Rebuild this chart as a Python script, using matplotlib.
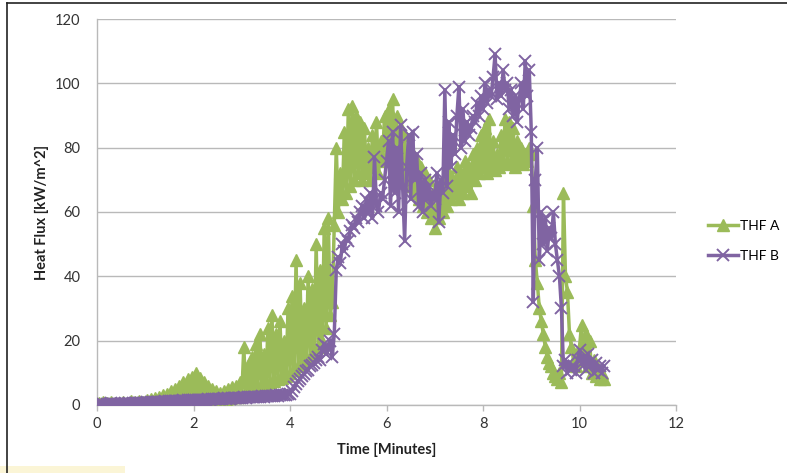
import matplotlib

matplotlib.use("Agg")
import matplotlib.pyplot as plt
import numpy as np
from matplotlib.lines import Line2D
from matplotlib.patches import Rectangle

GREEN = "#9bbb59"
PURPLE = "#8064a2"
GRID = "#b9b9b9"

plt.rcParams.update({"font.family": ["Lato", "DejaVu Sans"], "font.size": 10.5})

# samples every 2.5 s (1/24 min), one row = half a minute
step_min = 1 / 24

thf_a = [
    0.3, 0.6, 0.2, 0.8, 0.4, 0.5, 0.2, 0.9, 0.3, 0.6, 0.2, 0.7,
    0.4, 0.9, 0.3, 0.7, 0.5, 1.1, 0.3, 0.8, 0.4, 1.2, 0.5, 1.0,
    0.4, 1.4, 0.6, 1.8, 0.5, 2.2, 0.8, 2.6, 0.7, 3.0, 0.9, 3.5,
    1.0, 4.2, 1.2, 5.0, 1.4, 6.0, 1.6, 7.0, 1.8, 8.0, 2.0, 8.8,
    2.2, 9.8, 2.0, 8.5, 1.8, 7.0, 1.5, 6.0, 1.4, 5.0, 1.5, 4.2,
    1.6, 3.8, 1.8, 4.5, 2.0, 5.0, 2.2, 5.5, 2.4, 6.0, 2.6, 7.0,
    3.0, 18, 4.0, 12, 4.5, 15, 5.0, 19, 5.5, 22, 6.0, 16,
    6.5, 24, 7.0, 28, 7.5, 22, 8.0, 26, 8.5, 20, 9.0, 30,
    10, 34, 11, 45, 12, 38, 13, 30, 14, 40, 15, 36,
    16, 50, 18, 42, 20, 55, 24, 58, 28, 32, 56, 80,
    60, 72, 64, 85, 66, 92, 68, 93, 70, 90, 72, 88,
    70, 86, 72, 80, 70, 84, 74, 88, 72, 82, 76, 90,
    78, 92, 80, 95, 76, 90, 74, 86, 72, 84, 70, 80,
    68, 78, 66, 76, 64, 74, 62, 72, 60, 70, 58, 66,
    55, 62, 58, 68, 60, 70, 62, 72, 64, 70, 66, 74,
    64, 72, 66, 76, 68, 74, 66, 78, 70, 80, 72, 84,
    74, 86, 72, 89, 74, 82, 73, 78, 74, 84, 76, 89,
    75, 88, 76, 86, 74, 82, 76, 80, 75, 78, 76, 80,
    78, 62, 45, 38, 30, 26, 22, 18, 15, 13, 12, 10,
    9, 8, 10, 7, 66, 40, 35, 22, 18, 14, 12, 15,
    18, 25, 14, 22, 12, 20, 10, 14, 9, 11, 8, 10,
    8,
]

thf_b = [
    0.1, 0.3, 0.2, 0.4, 0.1, 0.3, 0.2, 0.5, 0.3, 0.2, 0.4, 0.3,
    0.4, 0.3, 0.5, 0.4, 0.6, 0.4, 0.5, 0.6, 0.5, 0.7, 0.6, 0.7,
    0.7, 0.8, 0.7, 0.9, 0.8, 0.9, 0.8, 1.0, 0.9, 1.0, 1.1, 1.0,
    1.1, 1.2, 1.1, 1.3, 1.2, 1.3, 1.2, 1.4, 1.3, 1.4, 1.5, 1.4,
    1.5, 1.6, 1.5, 1.7, 1.6, 1.7, 1.6, 1.8, 1.7, 1.8, 1.9, 1.8,
    1.9, 2.0, 1.9, 2.1, 2.0, 2.1, 2.0, 2.2, 2.1, 2.2, 2.3, 2.2,
    2.3, 2.4, 2.3, 2.5, 2.4, 2.5, 2.4, 2.6, 2.5, 2.6, 2.7, 2.6,
    2.7, 2.8, 2.7, 2.9, 2.8, 3.0, 2.9, 3.1, 3.0, 3.2, 3.1, 3.4,
    3.5, 4.5, 5.5, 6.5, 7.5, 8.0, 9.0, 9.5, 10.5, 11, 12, 12.5,
    13, 14, 15, 14, 17, 19, 16, 18, 20, 15, 22, 42,
    46, 44, 50, 48, 52, 51, 54, 56, 55, 58, 57, 60,
    62, 58, 64, 60, 66, 58, 77, 62, 60, 66, 64, 70,
    76, 82, 62, 85, 66, 80, 60, 87, 68, 51, 74, 84,
    64, 85, 70, 78, 62, 72, 60, 70, 64, 68, 62, 66,
    64, 72, 57, 70, 66, 98, 68, 88, 74, 84, 78, 90,
    99, 80, 92, 82, 88, 84, 86, 90, 88, 94, 90, 96,
    92, 100, 94, 98, 96, 102, 109, 95, 100, 96, 104, 98,
    100, 92, 98, 90, 96, 88, 95, 100, 92, 107, 96, 104,
    85, 32, 70, 80, 45, 60, 50, 58, 48, 55, 52, 60,
    50, 45, 40, 30, 12, 14, 10, 13, 11, 12, 10, 14,
    17, 13, 15, 11, 16, 12, 14, 10, 13, 11, 12, 10,
    12,
]

t_a = np.arange(len(thf_a)) * step_min
t_b = np.arange(len(thf_b)) * step_min

fig = plt.figure(figsize=(7.87, 4.73), dpi=100)
ax = fig.add_axes([0.1233, 0.1438, 0.859 - 0.1233, 0.9598 - 0.1438])

ax.plot(t_a, thf_a, "-^", color=GREEN, linewidth=2.5, markersize=8, label="THF A", zorder=3)
ax.plot(t_b, thf_b, "-x", color=PURPLE, linewidth=2.5, markersize=8, markeredgewidth=1.4,
        label="THF B", zorder=4)

ax.set_xlim(0, 12)
ax.set_ylim(0, 120)
ax.set_xticks(np.arange(0, 13, 2))
ax.set_yticks(np.arange(0, 121, 20))
ax.grid(axis="y", color=GRID, linewidth=1.0, zorder=0)
ax.set_axisbelow(True)
for s in ("top", "right"):
    ax.spines[s].set_visible(False)
for s in ("left", "bottom"):
    ax.spines[s].set_color(GRID)
    ax.spines[s].set_linewidth(1.0)
ax.tick_params(axis="both", colors=GRID, labelcolor="#333333", labelsize=10.5, length=4, width=1.0)
ax.tick_params(axis="y", length=0, pad=12)
ax.tick_params(axis="x", pad=5)

ax.set_xlabel("Time [Minutes]", fontweight="bold", fontsize=10.5, color="#222222", labelpad=8)
ax.set_ylabel("Heat Flux [kW/m^2]", fontweight="bold", fontsize=10.5, color="#222222", labelpad=4)

ax.legend(loc="center left", bbox_to_anchor=(1.045, 0.425), frameon=False, handlelength=2.2,
          labelspacing=1.25, fontsize=10, borderaxespad=0, handletextpad=0.1)

# outer frame (only left and top edges visible in the crop)
fig.add_artist(Line2D([7 / 787, 7 / 787], [0, 1 - 3 / 473], color="#222222", linewidth=1.2))
fig.add_artist(Line2D([7 / 787, 1], [1 - 3 / 473, 1 - 3 / 473], color="#222222", linewidth=1.2))
fig.add_artist(Rectangle((0, 0), 125 / 787, 7 / 473, color="#fbf5d6", linewidth=0))

fig.savefig("out.png", dpi=100)
